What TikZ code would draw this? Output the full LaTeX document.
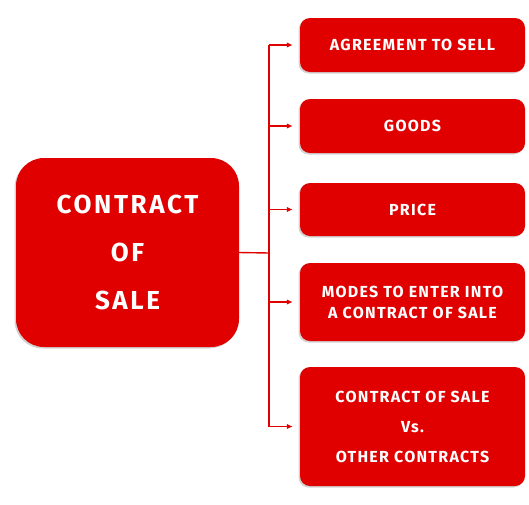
\documentclass[tikz,border=0pt]{standalone}
\usepackage{fontspec}
\setmainfont{Fira Sans}
\usetikzlibrary{shadows,arrows.meta}
\definecolor{salered}{HTML}{E00000}
\begin{document}
\begin{tikzpicture}[x=1pt,y=-1pt]
\tikzset{box/.style={fill=salered, text=white, align=center, inner sep=0pt,
	drop shadow={shadow xshift=-1.5pt, shadow yshift=-1.5pt, opacity=0.35},
	font=\bfseries\addfontfeatures{LetterSpace=8}\fontsize{16}{21}\selectfont},
	topic/.style={box, minimum width=225pt, rounded corners=10pt},
	link/.style={draw=salered, line width=1.4pt},
	branch/.style={link, -{Latex[length=6pt,width=5.5pt]}, shorten >=7pt}}
\useasboundingbox (0,0) rectangle (529,504);
\node[box, minimum width=223pt, minimum height=189pt, rounded corners=28pt,
	font=\bfseries\addfontfeatures{LetterSpace=10}\fontsize{26}{48}\selectfont] (sale) at (127.5,252.5) {CONTRACT\\OF\\SALE};
\node[topic, minimum height=54pt] (agree) at (412.5,45) {AGREEMENT TO SELL};
\node[topic, minimum height=54pt] (goods) at (412.5,126) {GOODS};
\node[topic, minimum height=53pt] (price) at (412.5,209.5) {PRICE};
\node[topic, minimum height=78pt] (modes) at (412.5,302) {MODES TO ENTER INTO\\A CONTRACT OF SALE};
\node[topic, minimum height=119pt, font=\bfseries\addfontfeatures{LetterSpace=8}\fontsize{16}{30}\selectfont] (others) at (412.5,426.5)
	{CONTRACT OF SALE\\Vs.\\OTHER CONTRACTS};
% trunk
\coordinate (trunk) at (269,253);
\coordinate (top) at (269,45);
\coordinate (bottom) at (269,426.5);
\draw[link] (sale.east) -- (trunk);
\draw[link] (top) -- (bottom);
\foreach \n in {agree,goods,price,modes,others}
	\draw[branch] (trunk |- \n.west) -- (\n.west);
\end{tikzpicture}
\end{document}
